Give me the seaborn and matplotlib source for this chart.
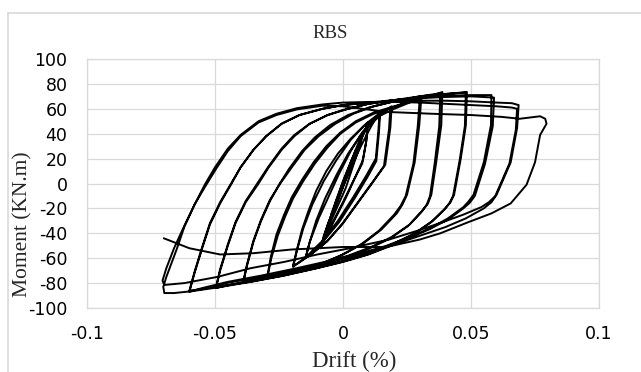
import matplotlib
matplotlib.use("Agg")
import matplotlib.pyplot as plt
import pandas as pd
import seaborn as sns
from matplotlib.lines import Line2D

# ---------------- data ----------------
title = "RBS"
x_label = "Drift (%)"
y_label = "Moment (KN.m)"
x_ticks = [-0.1, -0.05, 0.0, 0.05, 0.1]
x_tick_labels = ["-0.1", "-0.05", "0", "0.05", "0.1"]
y_ticks = [-100, -80, -60, -40, -20, 0, 20, 40, 60, 80, 100]
y_tick_labels = ["-100", "-80", "-60", "-40", "-20", "0", "20", "40", "60", "80", "100"]

# small elastic cycles
s_x = [0.0, 0.0035, 0.003, 0.0, -0.0035, -0.003, 0.0, 0.005, 0.0045, 0.0, -0.005, -0.0045, 0.0, 0.0075, 0.007, 0.001, -0.0075]
s_m = [0, 19, 15, -2, -20, -16, 1, 27, 22, -3, -29, -24, 2, 40, 33, -4, -43]

# 0.01 cycles
c10a_up_x = [-0.0075, -0.006, -0.003, 0.0, 0.003, 0.006, 0.0085, 0.0097]
c10a_up_m = [-43, -33, -17, -2, 14, 30, 42, 49]
c10a_dn_x = [0.0097, 0.0092, 0.0078, 0.005, 0.001, -0.003, -0.0065, -0.0085]
c10a_dn_m = [49, 35, 19, 6, -12, -28, -42, -50]
c10b_up_x = [-0.0085, -0.007, -0.004, -0.001, 0.002, 0.005, 0.008, 0.0095]
c10b_up_m = [-50, -40, -24, -8, 9, 25, 40, 47]
c10b_dn_x = [0.0095, 0.009, 0.0075, 0.004, 0.0, -0.004, -0.007, -0.0088]
c10b_dn_m = [47, 33, 16, 2, -15, -31, -43, -52]

# 0.015 cycles
c15a_up_x = [-0.0088, -0.0075, -0.0045, -0.001, 0.003, 0.007, 0.011, 0.0143]
c15a_up_m = [-52, -42, -25, -7, 12, 30, 46, 57]
c15a_dn_x = [0.0143, 0.0138, 0.0128, 0.009, 0.004, -0.002, -0.008, -0.012, -0.0147]
c15a_dn_m = [57, 42, 20, 6, -11, -30, -46, -54, -60]
c15b_up_x = [-0.0147, -0.013, -0.0095, -0.0055, -0.0015, 0.003, 0.0075, 0.0115, 0.0145]
c15b_up_m = [-60, -47, -28, -10, 8, 26, 41, 51, 56]
c15b_dn_x = [0.0145, 0.014, 0.013, 0.0095, 0.0045, -0.0015, -0.0075, -0.0115, -0.0145]
c15b_dn_m = [56, 40, 18, 5, -12, -31, -46, -55, -59]

# 0.02 cycles
c20a_up_x = [-0.0145, -0.013, -0.0105, -0.007, -0.0025, 0.002, 0.007, 0.012, 0.016, 0.019]
c20a_up_m = [-59, -47, -30, -12, 7, 24, 39, 50, 57, 62]
c20a_dn_x = [0.019, 0.0185, 0.0165, 0.012, 0.006, 0.0, -0.006, -0.012, -0.017, -0.0195]
c20a_dn_m = [62, 45, 15, 2, -15, -32, -46, -56, -63, -67]
c20b_up_x = [-0.0195, -0.018, -0.0155, -0.012, -0.0075, -0.0025, 0.003, 0.009, 0.014, 0.0185]
c20b_up_m = [-67, -54, -36, -17, 2, 19, 35, 48, 56, 61]
c20b_dn_x = [0.0185, 0.018, 0.016, 0.0115, 0.0055, -0.0005, -0.0065, -0.0125, -0.0175, -0.0195]
c20b_dn_m = [61, 44, 14, 1, -16, -33, -47, -57, -64, -66]

# 0.03 cycles
c30a_up_x = [-0.0195, -0.018, -0.016, -0.0135, -0.0105, -0.0065, -0.002, 0.003, 0.008, 0.014, 0.02, 0.026, 0.0306]
c30a_up_m = [-66, -53, -37, -22, -6, 10, 24, 36, 46, 54, 60, 65, 69.5]
c30a_dn_x = [0.0306, 0.0298, 0.028, 0.025, 0.0232, 0.021, 0.015, 0.008, 0.0, -0.008, -0.016, -0.023, -0.0295]
c30a_dn_m = [69.5, 47, 17, -9, -17, -24, -37, -48, -57, -64, -69, -72, -75]
c30b_up_x = [-0.0295, -0.028, -0.0255, -0.0225, -0.0195, -0.0155, -0.011, -0.006, -0.001, 0.005, 0.012, 0.019, 0.025, 0.030]
c30b_up_m = [-75, -60, -42, -26, -12, 2, 16, 29, 40, 49, 56, 61, 65, 68.5]
c30b_dn_x = [0.030, 0.0292, 0.0275, 0.0245, 0.0225, 0.020, 0.014, 0.007, -0.001, -0.009, -0.017, -0.024, -0.0295]
c30b_dn_m = [68.5, 46, 16, -10, -18, -25, -38, -49, -58, -65, -70, -73, -74]

# 0.04 cycles
c40a_up_x = [-0.0295, -0.0282, -0.026, -0.023, -0.020, -0.016, -0.0115, -0.0065, -0.001, 0.005, 0.012, 0.02, 0.028, 0.034, 0.0388]
c40a_up_m = [-74, -59, -41, -25, -11, 3, 17, 30, 41, 50, 57, 62, 67, 70, 73.5]
c40a_dn_x = [0.0388, 0.0384, 0.0364, 0.0345, 0.0332, 0.031, 0.026, 0.019, 0.011, 0.002, -0.008, -0.018, -0.028, -0.035, -0.039]
c40a_dn_m = [73.5, 47, 17, -9, -16, -22, -33, -43, -51, -58, -64, -69, -74, -77, -80]
c40b_up_x = [-0.039, -0.0375, -0.035, -0.032, -0.0285, -0.025, -0.021, -0.016, -0.011, -0.005, 0.002, 0.01, 0.02, 0.03, 0.038]
c40b_up_m = [-80, -66, -47, -30, -14, -1, 12, 26, 37, 47, 55, 61, 66, 70, 72.5]
c40b_dn_x = [0.038, 0.0376, 0.0358, 0.034, 0.0327, 0.0305, 0.0255, 0.0185, 0.0105, 0.0015, -0.0085, -0.0185, -0.0285, -0.0355, -0.039]
c40b_dn_m = [72.5, 46, 16, -10, -17, -23, -34, -44, -52, -59, -65, -70, -75, -78, -79]

# 0.05 cycles
c50a_up_x = [-0.039, -0.0375, -0.035, -0.032, -0.0285, -0.0245, -0.020, -0.015, -0.0095, -0.003, 0.004, 0.012, 0.022, 0.032, 0.041, 0.0484]
c50a_up_m = [-79, -65, -46, -29, -13, 0, 13, 27, 38, 48, 56, 62, 67, 70, 72, 73.5]
c50a_dn_x = [0.0484, 0.048, 0.046, 0.0434, 0.042, 0.040, 0.035, 0.028, 0.020, 0.010, 0.0, -0.010, -0.023, -0.036, -0.0455, -0.0496]
c50a_dn_m = [73.5, 47, 20, -9, -15, -20, -30, -40, -48, -56, -62, -67, -73, -78, -82, -84]
c50b_up_x = [-0.0496, -0.048, -0.045, -0.042, -0.038, -0.0333, -0.029, -0.024, -0.019, -0.013, -0.006, 0.002, 0.01, 0.02, 0.03, 0.04, 0.048]
c50b_up_m = [-84, -70, -50, -32, -15, -1, 13, 27, 38, 48, 55, 60, 64, 67, 70, 72, 73]
c50b_dn_x = [0.048, 0.0476, 0.0456, 0.043, 0.0415, 0.0395, 0.0345, 0.0275, 0.0195, 0.0095, -0.0005, -0.0105, -0.0235, -0.0365, -0.046, -0.0496]
c50b_dn_m = [73, 46, 19, -10, -16, -21, -31, -41, -49, -57, -63, -68, -74, -79, -82, -83]

# 0.06 cycles
c60a_up_x = [-0.0496, -0.048, -0.045, -0.042, -0.038, -0.0335, -0.029, -0.024, -0.019, -0.013, -0.006, 0.0, 0.01, 0.02, 0.03, 0.04, 0.05, 0.058]
c60a_up_m = [-83, -69, -49, -31, -14, 0, 14, 28, 39, 48, 55, 59, 64, 67, 69, 70.5, 71, 71]
c60a_dn_x = [0.058, 0.0578, 0.055, 0.051, 0.049, 0.047, 0.041, 0.034, 0.026, 0.017, 0.007, -0.005, -0.018, -0.032, -0.045, -0.055, -0.060]
c60a_dn_m = [71, 47, 17, -9, -14.5, -19, -28, -36, -43, -50, -56, -62, -68, -74, -79, -84, -87]
c60b_up_x = [-0.060, -0.058, -0.055, -0.052, -0.048, -0.0438, -0.040, -0.035, -0.030, -0.024, -0.017, -0.008, 0.0, 0.01, 0.02, 0.03, 0.04, 0.05, 0.059]
c60b_up_m = [-87, -72, -52, -33, -16, -1, 13, 27, 38, 48, 55, 60, 63, 65, 67, 68.5, 69.5, 70, 69]
c60b_dn_x = [0.059, 0.0585, 0.0555, 0.0515, 0.0495, 0.047, 0.041, 0.0335, 0.0255, 0.0165, 0.0065, -0.0055, -0.0185, -0.0325, -0.0455, -0.0555, -0.060]
c60b_dn_m = [69, 46, 16, -10, -15.5, -20, -29, -37, -44, -51, -57, -63, -69, -75, -80, -85, -86]

# 0.07 cycles
c70a_up_x = [-0.060, -0.058, -0.055, -0.052, -0.048, -0.044, -0.040, -0.035, -0.030, -0.024, -0.017, -0.008, 0.0, 0.01, 0.02, 0.03, 0.04, 0.05, 0.06, 0.066, 0.0686]
c70a_up_m = [-86, -71, -51, -32, -15, -1, 13, 27, 38, 48, 55, 60, 63, 65, 66, 66.5, 66.5, 66, 65, 64.5, 63]
c70a_dn_x = [0.0686, 0.068, 0.0655, 0.060, 0.058, 0.055, 0.048, 0.040, 0.030, 0.020, 0.010, 0.0, -0.010, -0.023, -0.036, -0.049, -0.059, -0.066, -0.0698]
c70a_dn_m = [63, 44.5, 17, -9, -15, -20, -28, -35, -42, -49, -57, -63, -68, -74, -79, -83.5, -86.5, -88, -88]
c70b_up_x = [-0.0698, -0.0702, -0.069, -0.067, -0.065, -0.062, -0.058, -0.054, -0.050, -0.045, -0.040, -0.033, -0.026, -0.018, -0.008, 0.0, 0.01, 0.02, 0.03, 0.04, 0.05, 0.06, 0.066, 0.068]
c70b_up_m = [-88, -83, -75, -64, -53, -35, -17, -1, 13, 28, 39, 50, 56, 60.5, 63.5, 65, 65.5, 65.5, 65, 64, 63, 62, 61, 60]
c70b_dn_x = [0.068, 0.0675, 0.065, 0.0595, 0.057, 0.054, 0.047, 0.039, 0.029, 0.018, 0.0027, -0.010, -0.023, -0.036, -0.049, -0.062, -0.0698]
c70b_dn_m = [60, 43, 16, -10, -15, -19, -25, -31, -38, -45, -52, -57, -63, -68, -75, -80, -81.5]

# 0.08 cycle and final unloading
c80_up_x = [-0.0698, -0.0705, -0.069, -0.066, -0.062, -0.058, -0.054, -0.0495, -0.045, -0.040, -0.033, -0.026, -0.018, -0.008, 0.0, 0.017, 0.035, 0.05, 0.062, 0.069, 0.073, 0.077, 0.079]
c80_up_m = [-81.5, -78, -68, -52, -34, -17, -3, 12, 26, 38, 49, 55, 59.5, 62.5, 62, 57.5, 56, 55, 53.5, 52, 53, 54, 52]
c80_dn_x = [0.079, 0.0795, 0.077, 0.075, 0.0717, 0.0655, 0.058, 0.049, 0.038, 0.030, 0.017, 0.0, -0.02, -0.035, -0.048, -0.06, -0.07]
c80_dn_m = [52, 48, 39, 17, -1, -16, -24, -31, -40, -45, -51, -51, -53, -56, -57, -52, -44]

segments = [
    (s_x, s_m),
    (c10a_up_x, c10a_up_m), (c10a_dn_x, c10a_dn_m), (c10b_up_x, c10b_up_m), (c10b_dn_x, c10b_dn_m),
    (c15a_up_x, c15a_up_m), (c15a_dn_x, c15a_dn_m), (c15b_up_x, c15b_up_m), (c15b_dn_x, c15b_dn_m),
    (c20a_up_x, c20a_up_m), (c20a_dn_x, c20a_dn_m), (c20b_up_x, c20b_up_m), (c20b_dn_x, c20b_dn_m),
    (c30a_up_x, c30a_up_m), (c30a_dn_x, c30a_dn_m), (c30b_up_x, c30b_up_m), (c30b_dn_x, c30b_dn_m),
    (c40a_up_x, c40a_up_m), (c40a_dn_x, c40a_dn_m), (c40b_up_x, c40b_up_m), (c40b_dn_x, c40b_dn_m),
    (c50a_up_x, c50a_up_m), (c50a_dn_x, c50a_dn_m), (c50b_up_x, c50b_up_m), (c50b_dn_x, c50b_dn_m),
    (c60a_up_x, c60a_up_m), (c60a_dn_x, c60a_dn_m), (c60b_up_x, c60b_up_m), (c60b_dn_x, c60b_dn_m),
    (c70a_up_x, c70a_up_m), (c70a_dn_x, c70a_dn_m), (c70b_up_x, c70b_up_m), (c70b_dn_x, c70b_dn_m),
    (c80_up_x, c80_up_m), (c80_dn_x, c80_dn_m),
]

drift, moment = [], []
for sx, sm in segments:
    drift.extend(sx)
    moment.extend(sm)
df = pd.DataFrame({"drift": drift, "moment": moment})

# ---------------- drawing ----------------
sns.set_style("white")
plt.rcParams["font.family"] = ["DejaVu Sans"]

W, H = 641, 372
fig = plt.figure(figsize=(W / 100, H / 100), dpi=100)
L, R, T, B = 87, 599, 59, 308
ax = fig.add_axes([L / W, 1 - B / H, (R - L) / W, (B - T) / H])

sns.lineplot(data=df, x="drift", y="moment", sort=False, estimator=None,
             color="black", linewidth=1.4, ax=ax)
for ln in ax.get_lines():
    ln.set_solid_joinstyle("round")

ax.set_xlim(-0.1, 0.1)
ax.set_ylim(-100, 100)
ax.set_xticks(x_ticks)
ax.set_xticklabels(x_tick_labels)
ax.set_yticks(y_ticks)
ax.set_yticklabels(y_tick_labels)
ax.set_xlabel("")
ax.set_ylabel("")
ax.grid(True, color="#d9d9d9", linewidth=0.9)
ax.set_axisbelow(True)
for sp in ax.spines.values():
    sp.set_color("#d9d9d9")
    sp.set_linewidth(0.9)
ax.tick_params(axis="both", length=0, labelsize=12.5, colors="#000000")
ax.tick_params(axis="x", pad=12)
ax.tick_params(axis="y", pad=14)

serif = ["Liberation Serif", "DejaVu Serif"]
fig.text(330 / W, 1 - 34 / H, title, family=serif, fontsize=13.5, ha="center", va="center")
fig.text(354 / W, 1 - 361 / H, x_label, family=serif, fontsize=16.5, ha="center", va="center")
fig.text(23 / W, 1 - 224 / H, y_label, family=serif, fontsize=15.5, rotation=90,
         ha="center", va="center")

# chart-area border (top and left edges visible)
fig.add_artist(Line2D([8 / W, 8 / W], [1 - 13 / H, 0], transform=fig.transFigure,
                      color="#d9d9d9", linewidth=1.2))
fig.add_artist(Line2D([8 / W, 1], [1 - 13 / H, 1 - 13 / H], transform=fig.transFigure,
                      color="#d9d9d9", linewidth=1.2))

fig.savefig("out.png", dpi=100)
